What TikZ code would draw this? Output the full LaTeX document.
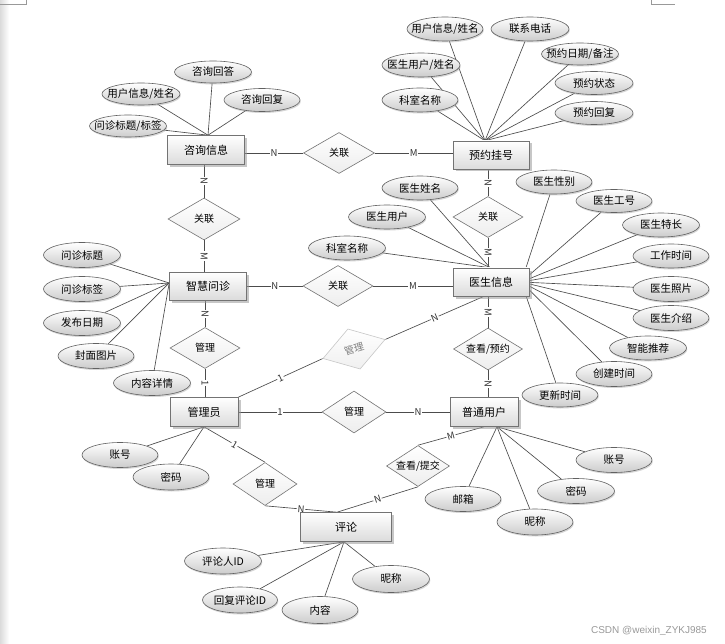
\documentclass[tikz,border=0pt]{standalone}
\usepackage{fontspec}
\setmainfont{Noto Sans CJK SC}
\newfontfamily\wmfont{Liberation Sans}
\usetikzlibrary{shapes.geometric,shadows}
\pgfdeclarelayer{bglayer}
\pgfdeclarelayer{edgelayer}
\pgfsetlayers{bglayer,edgelayer,main}
\tikzset{
 zw/.style={execute at begin node={\hbox to 0pt\bgroup\hss}, execute at end node={\hss\egroup}},
 ent/.style={rectangle, zw, draw=black!55, line width=0.6pt, top color=white, bottom color=black!14, inner sep=0pt, minimum width=76pt, minimum height=28pt, font=\fontsize{11}{13}\selectfont, drop shadow={shadow xshift=2.5pt, shadow yshift=-2.5pt, fill=black!40, opacity=0.55}},
 attr/.style={ellipse, zw, draw=black!62, line width=0.6pt, top color=white, bottom color=black!20, inner sep=0pt, minimum width=76pt, minimum height=24pt, font=\fontsize{10.5}{12}\selectfont, drop shadow={shadow xshift=0.8pt, shadow yshift=-1.5pt, fill=black!35, opacity=0.45}},
 relbase/.style={diamond, draw=black!55, line width=0.6pt, top color=white, bottom color=black!7, inner sep=0pt, minimum width=70pt, minimum height=41pt, font=\fontsize{10}{12}\selectfont},
 rel/.style={relbase, zw},
 faded/.style={draw=black!22, top color=white, bottom color=black!6, text=black!50},
 conn/.style={draw=black!70, line width=0.65pt},
 card/.style={fill=white, inner sep=0.8pt, font=\fontsize{9.5}{10}\selectfont, text=black!80, sloped},
}
\begin{document}
\begin{tikzpicture}[x=1pt,y=-1pt]
\useasboundingbox (0,0) rectangle (725,644);
\begin{pgfonlayer}{bglayer}
\fill[white] (0,0) rectangle (725,644);
\fill[left color=black!14, right color=white] (0,0) rectangle (9,644);
\draw[black!40, line width=0.5pt] (0,4) -- (26,4) -- (26,0);
\draw[black!40, line width=0.5pt] (651,0) -- (651,4) -- (675,4);
\end{pgfonlayer}

% entities
\node[ent, minimum width=77pt, minimum height=29pt] (e1) at (206,150) {咨询信息};
\node[ent] (e2) at (491,155) {预约挂号};
\node[ent, minimum width=77pt] (e3) at (208,286) {智慧问诊};
\node[ent] (e4) at (491,282) {医生信息};
\node[ent, minimum width=68pt, minimum height=29pt] (e5) at (204,412) {管理员};
\node[ent, minimum width=68pt, minimum height=29pt] (e6) at (484,412) {普通用户};
\node[ent, minimum width=91pt, minimum height=29pt] (e7) at (346,527) {评论};

% relationships
\node[rel, minimum width=71pt] (r1) at (339,153) {关联};
\node[rel, minimum width=72pt, minimum height=42pt] (r2) at (204,219) {关联};
\node[rel] (r3) at (488,217) {关联};
\node[rel] (r4) at (338,286) {关联};
\node[rel] (r5) at (205,348) {管理};
\node[relbase, faded, minimum width=65pt, minimum height=42pt, rotate=17] (r6) at (354,349) {管理};
\node[rel, minimum width=69pt, minimum height=42pt] (r7) at (488,349) {查看/预约};
\node[rel, minimum width=64pt, minimum height=42pt] (r8) at (354,412) {管理};
\node[rel, minimum width=64pt, minimum height=43pt] (r9) at (265,484) {管理};
\node[rel, minimum width=63pt, minimum height=41pt] (r10) at (418,466) {查看/提交};

% attributes of 咨询信息
\node[attr, minimum width=77pt, minimum height=22pt] (a1) at (213,72) {咨询回答};
\node[attr, minimum width=78pt, minimum height=22pt] (a2) at (141,94) {用户信息/姓名};
\node[attr, minimum height=23pt] (a3) at (262,100) {咨询回复};
\node[attr, minimum width=77pt, minimum height=22pt] (a4) at (128,126) {问诊标题/标签};

% attributes of 预约挂号
\node[attr] (b1) at (445,29) {用户信息/姓名};
\node[attr, minimum width=78pt] (b2) at (530,29) {联系电话};
\node[attr, minimum width=78pt] (b3) at (421,65) {医生用户/姓名};
\node[attr, minimum width=77pt, minimum height=22pt] (b4) at (580,54) {预约日期/备注};
\node[attr, minimum width=78pt, minimum height=23pt] (b5) at (594,83) {预约状态};
\node[attr, minimum width=78pt, minimum height=23pt] (b6) at (594,113) {预约回复};
\node[attr] (b7) at (420,100) {科室名称};

% attributes of 智慧问诊
\node[attr, minimum width=77pt, minimum height=25pt] (d1) at (82,255) {问诊标题};
\node[attr, minimum width=77pt, minimum height=25pt] (d2) at (82,289) {问诊标签};
\node[attr, minimum width=77pt, minimum height=25pt] (d3) at (82,323) {发布日期};
\node[attr, minimum height=25pt] (d4) at (96,356) {封面图片};
\node[attr, minimum width=77pt, minimum height=25pt] (d5) at (152,383) {内容详情};

% attributes of 医生信息
\node[attr] (f1) at (420,188) {医生姓名};
\node[attr, minimum width=77pt] (f2) at (387,217) {医生用户};
\node[attr, minimum width=77pt] (f3) at (347,248) {科室名称};
\node[attr] (g1) at (554,182) {医生性别};
\node[attr, minimum height=23pt] (g2) at (614,201) {医生工号};
\node[attr, minimum width=77pt] (g3) at (661,225) {医生特长};
\node[attr] (g4) at (671,256) {工作时间};
\node[attr, minimum height=25pt] (g5) at (671,289) {医生照片};
\node[attr, minimum height=25pt] (g6) at (671,318) {医生介绍};
\node[attr, minimum width=77pt] (g7) at (648,348) {智能推荐};
\node[attr, minimum height=25pt] (g8) at (614,374) {创建时间};
\node[attr] (g9) at (560,395) {更新时间};

% attributes of 管理员
\node[attr, minimum height=25pt] (h1) at (120,455) {账号};
\node[attr, minimum height=26pt] (h2) at (171,477) {密码};

% attributes of 普通用户
\node[attr, minimum height=25pt] (k1) at (463,499) {邮箱};
\node[attr, minimum height=26pt] (k2) at (535,522) {昵称};
\node[attr, minimum width=77pt, minimum height=25pt] (k3) at (576,491) {密码};
\node[attr, minimum height=25pt] (k4) at (614,460) {账号};

% attributes of 评论
\node[attr, minimum width=77pt, minimum height=26pt] (m1) at (223,561) {评论人ID};
\node[attr, minimum width=75pt, minimum height=26pt] (m2) at (240,600) {回复评论ID};
\node[attr, minimum height=27pt] (m3) at (320,610) {内容};
\node[attr, minimum width=77pt, minimum height=27pt] (m4) at (391,579) {昵称};

% watermark
\node[font=\wmfont\fontsize{10}{10}\selectfont, text=black!40, anchor=east, inner sep=0pt] (wm) at (707,631) {CSDN @weixin\_ZYKJ985};

% convergence points
\coordinate (c1) at ([xshift=2pt]e1.north);
\coordinate (c2) at ([xshift=-6pt]e2.north);
\coordinate (c3) at ([yshift=3pt]e3.west);
\coordinate (c4) at ([xshift=-1pt]e4.north);
\coordinate (c5) at ([xshift=-8pt]e4.east);
\coordinate (c6) at (e5.south);
\coordinate (c7) at ([xshift=13pt]e6.south);
\coordinate (c8) at ([xshift=-2pt]e7.south);
\coordinate (c9) at ([xshift=-9pt]e7.north);
\coordinate (c10) at ([xshift=-7pt]e4.south);

\begin{pgfonlayer}{edgelayer}
\foreach \t in {a1,a2,a3,a4} \draw[conn] (c1) -- (\t);
\foreach \t in {b1,b2,b3,b4,b5,b6,b7} \draw[conn] (c2) -- (\t);
\foreach \t in {d1,d2,d3,d4,d5} \draw[conn] (c3) -- (\t);
\foreach \t in {f1,f2,f3} \draw[conn] (c4) -- (\t);
\foreach \t in {g1,g2,g3,g4,g5,g6,g7,g8,g9} \draw[conn] (c5) -- (\t);
\foreach \t in {h1,h2} \draw[conn] (c6) -- (\t);
\foreach \t in {k1,k2,k3,k4} \draw[conn] (c7) -- (\t);
\foreach \t in {m1,m2,m3,m4} \draw[conn] (c8) -- (\t);

\draw[conn] (e1.east |- r1.west) -- node[card]{N} (r1.west);
\draw[conn] (r1.east) -- node[card]{M} (r1.east -| e2.west);
\draw[conn] (r2.north |- e1.south) -- node[card]{N} (r2.north);
\draw[conn] (r2.south) -- node[card]{M} (r2.south |- e3.north);
\draw[conn] (r3.north |- e2.south) -- node[card]{N} (r3.north);
\draw[conn] (r3.south) -- node[card]{M} (r3.south |- e4.north);
\draw[conn] (e3.east |- r4.west) -- node[card]{N} (r4.west);
\draw[conn] (r4.east) -- node[card]{M} (r4.east -| e4.west);
\draw[conn] (r5.north |- e3.south) -- node[card]{N} (r5.north);
\draw[conn] (r5.south) -- node[card]{1} (r5.south |- e5.north);
\draw[conn] (e5.north east) -- node[card]{1} (r6.west);
\draw[conn] (r6.east) -- node[card]{N} (c10);
\draw[conn] (r7.north |- e4.south) -- node[card]{M} (r7.north);
\draw[conn] (r7.south) -- node[card]{N} (r7.south |- e6.north);
\draw[conn] (e5.east |- r8.west) -- node[card]{1} (r8.west);
\draw[conn] (r8.east) -- node[card]{N} (r8.east -| e6.west);
\draw[conn] (e5.south) -- node[card]{1} (r9.north);
\draw[conn] (r9.south) -- node[card]{N} (c9);
\draw[conn] (r10.south) -- node[card]{N} (c9);
\draw[conn] (e6.south) -- node[card]{M} (r10.north);
\end{pgfonlayer}
\end{tikzpicture}
\end{document}
